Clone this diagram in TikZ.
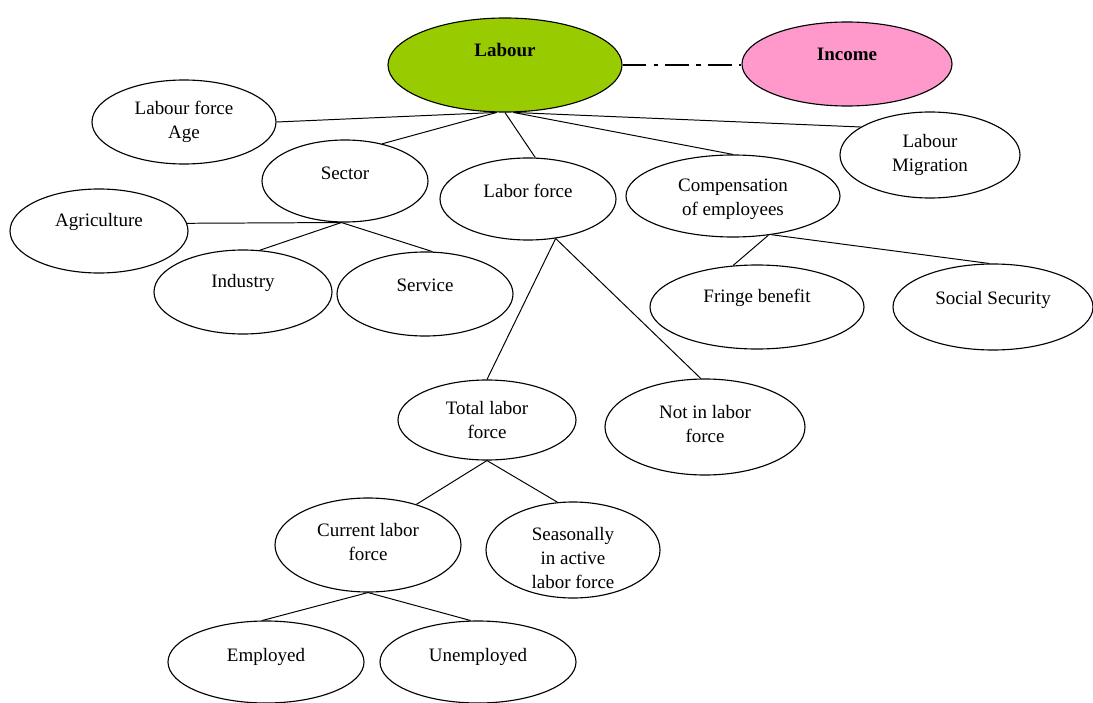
\documentclass[tikz,border=0pt]{standalone}
\usepackage{fontspec}
\setmainfont{Liberation Serif}
\usetikzlibrary{shapes.geometric}
\definecolor{labourgreen}{HTML}{99CC00}
\definecolor{incomepink}{HTML}{FF99CC}
\newcommand{\diagfont}{\fontsize{13.5}{17}\selectfont}
\tikzset{
	oval/.style 2 args={draw, ellipse, line width=0.8pt, inner sep=0pt, minimum width=#1*0.025cm, minimum height=#2*0.025cm},
	branch/.style={line width=0.7pt},
	every label/.style={align=center, inner sep=0pt},
}
\begin{document}
\begin{tikzpicture}[x=0.025cm, y=-0.025cm, font=\diagfont]
		\useasboundingbox (0,0) rectangle (1093,703);
		\node[oval={234}{94}, fill=labourgreen, label={[yshift=10.7pt, font=\diagfont\bfseries]center:Labour}] (lab) at (505,65) {};
		\node[oval={210}{84}, fill=incomepink, label={[yshift=7pt, font=\diagfont\bfseries]center:Income}] (inc) at (847,64) {};
		\draw[line width=2.1pt, dash pattern=on 17pt off 5pt on 3.5pt off 5pt] (lab.east) -- (lab.east -| inc.west);
		
		\node[oval={184}{84}, label={center:Labour force\\Age}] (lfa) at (184,122) {};
		\node[oval={166}{82}, label={[yshift=5.7pt]center:Sector}] (sector) at (345,181) {};
		\node[oval={176}{82}, label={[yshift=5.7pt]center:Labor force}] (lforce) at (528,199) {};
		\node[oval={214}{82}, label={[yshift=-2pt]center:Compensation\\of employees}] (comp) at (733,196) {};
		\node[oval={180}{86}, label={center:Labour\\Migration}] (mig) at (930,155) {};
		
		\node[oval={178}{84}, label={[yshift=6.4pt]center:Agriculture}] (agri) at (99,231) {};
		\node[oval={178}{84}, label={[yshift=6.4pt]center:Industry}] (ind) at (243,292) {};
		\node[oval={176}{84}, label={[yshift=6.4pt]center:Service}] (serv) at (425,294) {};
		\node[oval={214}{84}, label={[yshift=6.4pt]center:Fringe benefit}] (fringe) at (757,307) {};
		\node[oval={200}{86}, label={[yshift=5pt]center:Social Security}] (social) at (993,307) {};
		
		\node[oval={178}{80}, label={center:Total labor\\force}] (total) at (487,420) {};
		\node[oval={200}{96}, label={[yshift=2pt]center:Not in labor\\force}] (notin) at (705,427) {};
		\node[oval={186}{94}, label={[yshift=2pt]center:Current labor\\force}] (current) at (368,545) {};
		\node[oval={174}{96}, label={[yshift=-5.7pt]center:Seasonally\\in active\\labor force}] (seas) at (573,550) {};
		\node[oval={196}{82}, label={[yshift=3.5pt]center:Employed}] (emp) at (266,662) {};
		\node[oval={196}{82}, label={[yshift=3.5pt]center:Unemployed}] (unemp) at (478,662) {};
		
		\draw[branch] (lab.-100) -- (lfa.east);
		\draw[branch] (lab.-100) -- (sector.45);
		\draw[branch] (lab.south) -- (lforce.80);
		\draw[branch] (lab.-80) -- (comp.north);
		\draw[branch] (lab.-80) -- (mig.158);
		
		\draw[branch] (sector.-95) -- (agri.5);
		\draw[branch] (sector.-95) -- (ind.68);
		\draw[branch] (sector.-95) -- (serv.80);
		
		\draw[branch] (lforce.-55) -- (total.north);
		\draw[branch] (lforce.-55) -- (notin.95);
		\draw[branch] (comp.-48) -- (fringe.120);
		\draw[branch] (comp.-45) -- (social.95);
		
		\draw[branch] (total.south) -- (current.40);
		\draw[branch] (total.south) -- (seas.108);
		\draw[branch] (current.south) -- (emp.95);
		\draw[branch] (current.south) -- (unemp.100);
	\end{tikzpicture}
\end{document}
